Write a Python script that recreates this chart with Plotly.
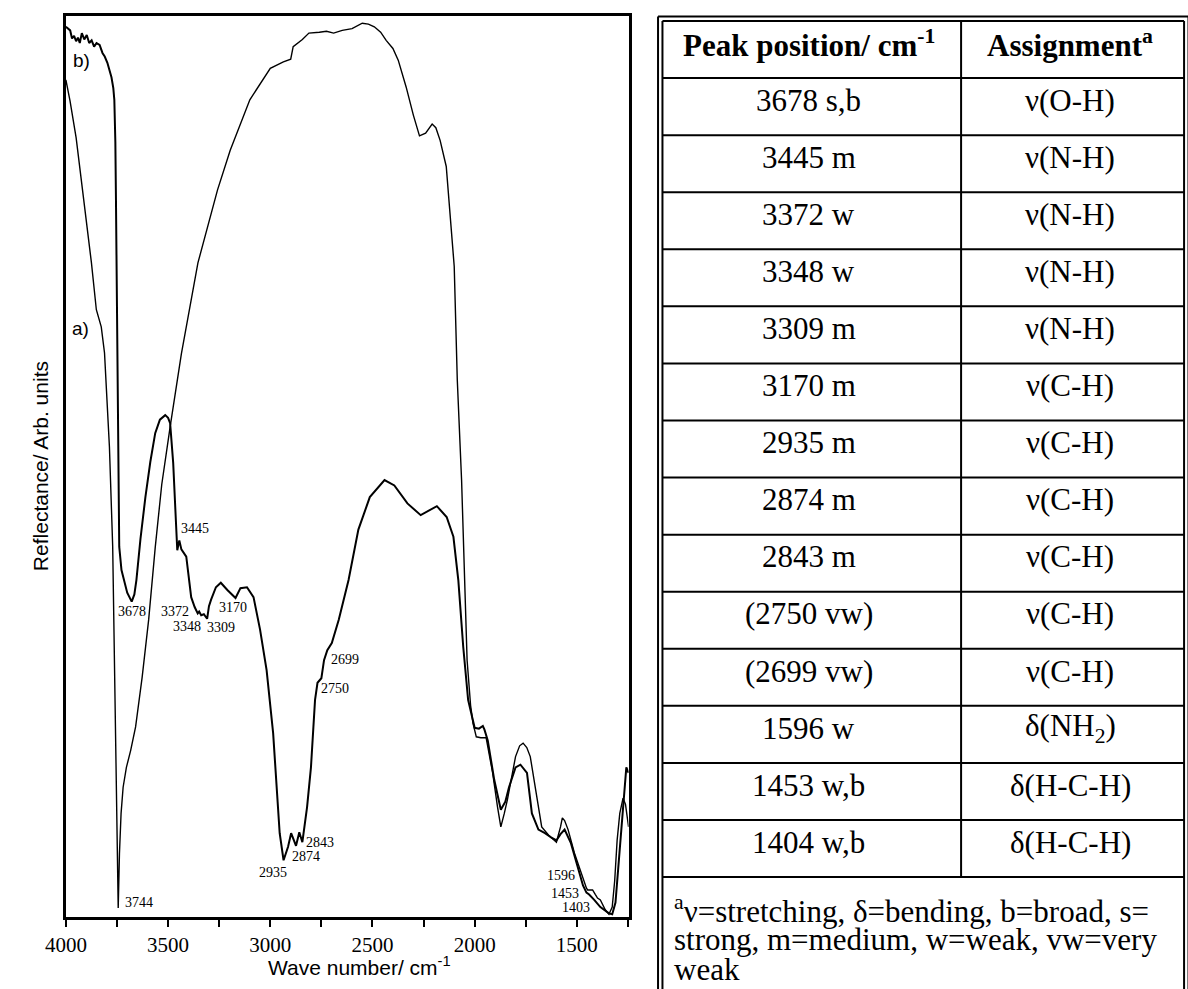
import plotly.graph_objects as go

W, H = 1188, 989

# ---------------- spectrum data ----------------
wave_a = [4000, 3980, 3950, 3925, 3900, 3875, 3851, 3835, 3827, 3811, 3787, 3771, 3763, 3755, 3750,
          3744, 3738, 3730, 3720, 3704, 3683, 3659, 3627, 3595, 3563, 3531, 3490, 3435, 3354, 3258,
          3196, 3100, 3000, 2936, 2900, 2888, 2843, 2811, 2760, 2725, 2690, 2648, 2600, 2550, 2520,
          2491, 2460, 2433, 2400, 2374, 2335, 2300, 2270, 2240, 2208, 2190, 2169, 2139, 2100, 2085,
          2064, 2048, 2037, 2020, 2008, 1992, 1970, 1944, 1925, 1912, 1888, 1872, 1855, 1840, 1800,
          1780, 1763, 1745, 1728, 1696, 1672, 1639, 1600, 1580, 1571, 1560, 1543, 1512, 1480, 1453,
          1447, 1423, 1410, 1399, 1385, 1361, 1343, 1327, 1315, 1303, 1290, 1274, 1262, 1255, 1247]
refl_a = [92.9, 90.6, 86.5, 82.0, 77.0, 72.6, 67.4, 66.3, 65.5, 62.6, 52.2, 41.1, 28.0, 18.0, 9.3,
          1.0, 7.0, 11.5, 14.4, 16.6, 18.5, 21.1, 26.6, 33.0, 41.0, 48.0, 54.4, 62.5, 72.6, 80.7,
          85.1, 90.7, 94.2, 94.9, 95.2, 96.6, 97.4, 98.1, 98.2, 98.3, 98.1, 98.4, 98.6, 99.2, 99.1,
          98.8, 98.2, 97.3, 96.4, 95.1, 92.1, 89.0, 86.7, 87.0, 88.0, 87.6, 86.2, 83.3, 72.2, 59.6,
          48.5, 37.4, 28.5, 23.5, 21.5, 20.0, 19.9, 19.9, 17.5, 16.0, 12.2, 10.0, 11.5, 13.0, 17.8,
          19.0, 19.3, 18.8, 17.8, 13.3, 10.0, 9.1, 8.3, 10.0, 11.0, 10.7, 9.7, 7.1, 4.9, 3.2,
          3.0, 3.0, 2.5, 2.1, 1.9, 0.8, 0.3, 1.1, 4.0, 8.5, 11.5, 13.2, 12.5, 11.1, 10.0]

wave_b = [4000, 3990, 3979, 3970, 3960, 3950, 3941, 3932, 3922, 3910, 3898, 3886, 3874, 3862, 3850,
          3835, 3821, 3810, 3797, 3777, 3768, 3763, 3758, 3755, 3747, 3739, 3728, 3715, 3700, 3678,
          3665, 3655, 3635, 3611, 3587, 3563, 3540, 3514, 3500, 3490, 3475, 3465, 3455, 3445, 3435,
          3411, 3387, 3370, 3355, 3348, 3338, 3325, 3309, 3300, 3290, 3266, 3242, 3210, 3170, 3146,
          3114, 3082, 3050, 3018, 2986, 2954, 2935, 2913, 2898, 2874, 2858, 2843, 2833, 2820, 2801,
          2781, 2769, 2750, 2737, 2721, 2699, 2665, 2617, 2569, 2513, 2441, 2393, 2329, 2264, 2220,
          2185, 2137, 2104, 2080, 2056, 2032, 2000, 1979, 1960, 1952, 1936, 1904, 1872, 1850, 1832,
          1800, 1776, 1744, 1720, 1688, 1656, 1624, 1600, 1580, 1560, 1529, 1495, 1470, 1453, 1440,
          1415, 1404, 1385, 1343, 1327, 1311, 1286, 1266, 1258, 1247]
refl_b = [98.8, 98.6, 98.4, 97.5, 97.8, 97.2, 97.6, 97.0, 98.1, 97.4, 97.9, 97.0, 97.3, 96.6, 97.0,
          96.8, 95.9, 95.5, 94.8, 93.2, 92.0, 90.7, 86.0, 79.6, 59.6, 41.1, 38.5, 37.4, 36.0, 35.0,
          35.8, 37.4, 42.0, 46.6, 50.5, 53.7, 55.2, 55.7, 55.4, 54.8, 50.4, 45.5, 40.7, 41.8, 40.8,
          40.0, 35.5, 34.4, 33.7, 33.9, 33.5, 33.6, 33.1, 34.5, 35.2, 36.6, 37.1, 36.3, 35.4, 36.5,
          36.6, 35.5, 31.9, 27.4, 20.4, 9.3, 6.3, 7.8, 9.3, 7.9, 9.4, 8.3, 10.0, 12.2, 16.6,
          24.1, 26.0, 26.5, 28.5, 29.6, 30.4, 33.0, 37.4, 43.0, 46.6, 48.5, 47.9, 45.9, 44.6, 45.2,
          45.6, 44.4, 42.2, 37.4, 30.0, 24.1, 21.0, 20.9, 21.2, 20.8, 19.6, 15.2, 11.9, 12.8, 14.4,
          16.6, 16.9, 16.0, 11.5, 9.7, 9.3, 8.8, 8.5, 9.2, 9.7, 8.2, 5.5, 3.5, 2.7, 2.5,
          1.9, 1.6, 1.1, 0.4, 0.3, 1.6, 8.5, 14.5, 16.6, 16.0]

peak_labels = ["3744", "3678", "3445", "3372", "3348", "3309", "3170", "2935", "2874", "2843",
               "2750", "2699", "1596", "1453", "1403"]
label_wave = [3643, 3678, 3370, 3466, 3407, 3239, 3183, 2986, 2826, 2758, 2681, 2633, 1576, 1557, 1504]
label_refl = [1.6, 33.9, 43.1, 33.9, 32.2, 32.1, 34.4, 4.9, 6.7, 8.3, 25.4, 28.6, 4.6, 2.6, 1.1]

major_ticks = [4000, 3500, 3000, 2500, 2000, 1500]
major_text = ["4000", "3500", "3000", "2500", "2000", "1500"]
minor_ticks = [3750, 3250, 2750, 2250, 1750, 1250]

# ---------------- table data ----------------
header = ["<b>Peak position/ cm<sup>-1</sup></b>", "<b>Assignment<sup>a</sup></b>"]
peak_pos = ["3678 s,b", "3445 m", "3372 w", "3348 w", "3309 m", "3170 m", "2935 m", "2874 m",
            "2843 m", "(2750 vw)", "(2699 vw)", "1596 w", "1453 w,b", "1404 w,b"]
assignment = ["\u03bd(O-H)", "\u03bd(N-H)", "\u03bd(N-H)", "\u03bd(N-H)", "\u03bd(N-H)", "\u03bd(C-H)",
              "\u03bd(C-H)", "\u03bd(C-H)", "\u03bd(C-H)", "\u03bd(C-H)", "\u03bd(C-H)",
              "\u03b4(NH<sub>2</sub>)", "\u03b4(H-C-H)", "\u03b4(H-C-H)"]
footnote = ["<sup>a</sup>\u03bd=stretching, \u03b4=bending, b=broad, s=",
            "strong, m=medium, w=weak, vw=very",
            "weak"]

# ---------------- geometry ----------------
def px(x):
    return x / W

def py(y):
    return (H - y) / H

PL, PR, PT, PB = 45.7, 618.5, 16.0, 917.0
SERIF = "Liberation Serif"
SANS = "Liberation Sans"

fig = go.Figure()
fig.add_trace(go.Scatter(x=wave_a, y=refl_a, mode="lines",
                         line=dict(color="black", width=1.4), hoverinfo="skip", showlegend=False))
fig.add_trace(go.Scatter(x=wave_b, y=refl_b, mode="lines",
                         line=dict(color="black", width=2.0), hoverinfo="skip", showlegend=False))

annotations = []
for t, xv, yv in zip(peak_labels, label_wave, label_refl):
    annotations.append(dict(x=xv, y=yv, xref="x", yref="y", text=t, showarrow=False,
                            font=dict(family=SERIF, size=14, color="black"),
                            xanchor="center", yanchor="middle"))
annotations.append(dict(x=3926, y=95.1, xref="x", yref="y", text="b)", showarrow=False,
                        font=dict(family=SANS, size=19, color="black"), xanchor="center", yanchor="middle"))
annotations.append(dict(x=3929, y=65.3, xref="x", yref="y", text="a)", showarrow=False,
                        font=dict(family=SANS, size=19, color="black"), xanchor="center", yanchor="middle"))
annotations.append(dict(x=px(345), y=py(966), xref="paper", yref="paper",
                        text="Wave number/ cm<sup>-1</sup>", showarrow=False,
                        font=dict(family=SANS, size=21, color="black"), xanchor="center", yanchor="middle"))
annotations.append(dict(x=px(20), y=py((PT + PB) / 2), xref="paper", yref="paper",
                        text="Reflectance/ Arb. units", textangle=-90, showarrow=False,
                        font=dict(family=SANS, size=21, color="black"), xanchor="center", yanchor="middle"))

# ---------------- table ----------------
T_LEFT, T_TOP, ROW_H = 653.0, 21.0, 57.07
T_RIGHT = 1184.0
COL_DIV = 957.0
C1, C2 = 802.0, 1068.0
n_rows = len(peak_pos)
y2_max = (H - T_TOP) / ROW_H

shapes = []
def tline(x0, y0, x1, y1, w=2):
    shapes.append(dict(type="line", xref="x2", yref="y2", x0=x0, y0=y0, x1=x1, y1=y1,
                       line=dict(color="black", width=w)))

for r in range(1, n_rows + 2):
    tline(T_LEFT, r, T_RIGHT, r)
tline(COL_DIV, 0, COL_DIV, n_rows + 1)

# outer double border
for off in (0.0, 4.5):
    shapes.append(dict(type="line", xref="paper", yref="paper",
                       x0=px(T_LEFT - off), y0=py(T_TOP - off), x1=px(T_LEFT - off), y1=0,
                       line=dict(color="black", width=2)))
    shapes.append(dict(type="line", xref="paper", yref="paper",
                       x0=px(T_LEFT - off), y0=py(T_TOP - off), x1=px(T_RIGHT + off), y1=py(T_TOP - off),
                       line=dict(color="black", width=2)))
    shapes.append(dict(type="line", xref="paper", yref="paper",
                       x0=px(T_RIGHT + off), y0=py(T_TOP - off), x1=px(T_RIGHT + off), y1=0,
                       line=dict(color="black", width=2)))

TFONT = dict(family=SERIF, size=31, color="black")
for c, t in zip((C1, C2), header):
    annotations.append(dict(x=c, y=0.40, xref="x2", yref="y2", text=t, showarrow=False,
                            font=TFONT, xanchor="center", yanchor="middle"))
for i, (p, a) in enumerate(zip(peak_pos, assignment)):
    annotations.append(dict(x=C1, y=i + 1.39, xref="x2", yref="y2", text=p, showarrow=False,
                            font=TFONT, xanchor="center", yanchor="middle"))
    annotations.append(dict(x=C2, y=i + 1.39, xref="x2", yref="y2", text=a, showarrow=False,
                            font=TFONT, xanchor="center", yanchor="middle"))
for k, t in enumerate(footnote):
    annotations.append(dict(x=663, y=(909.5 + 30 * k - T_TOP) / ROW_H, xref="x2", yref="y2",
                            text=t, showarrow=False, font=TFONT, xanchor="left", yanchor="middle"))

fig.update_layout(
    width=W, height=H, margin=dict(l=0, r=0, t=0, b=0),
    paper_bgcolor="white", plot_bgcolor="white",
    xaxis=dict(domain=[px(PL), px(PR)], range=[4000, 1247], showgrid=False, zeroline=False,
               showline=True, mirror=True, linecolor="black", linewidth=3,
               ticks="outside", ticklen=7, tickwidth=2, tickcolor="black",
               tickmode="array", tickvals=major_ticks, ticktext=major_text,
               minor=dict(tickmode="array", tickvals=minor_ticks, ticks="outside",
                          ticklen=7, tickwidth=2, tickcolor="black", showgrid=False),
               tickfont=dict(family=SERIF, size=21, color="black")),
    yaxis=dict(domain=[py(PB), py(PT)], range=[0, 100], showgrid=False, zeroline=False,
               showline=True, mirror=True, linecolor="black", linewidth=3,
               showticklabels=False, ticks=""),
    xaxis2=dict(domain=[px(T_LEFT), 1], range=[T_LEFT, W], visible=False, anchor="y2"),
    yaxis2=dict(domain=[0, py(T_TOP)], range=[y2_max, 0], visible=False, anchor="x2"),
    shapes=shapes, annotations=annotations,
)

fig.write_html("out.html", config={"displayModeBar": False},
               post_script="document.body.style.margin='0';document.body.style.overflow='hidden';")
